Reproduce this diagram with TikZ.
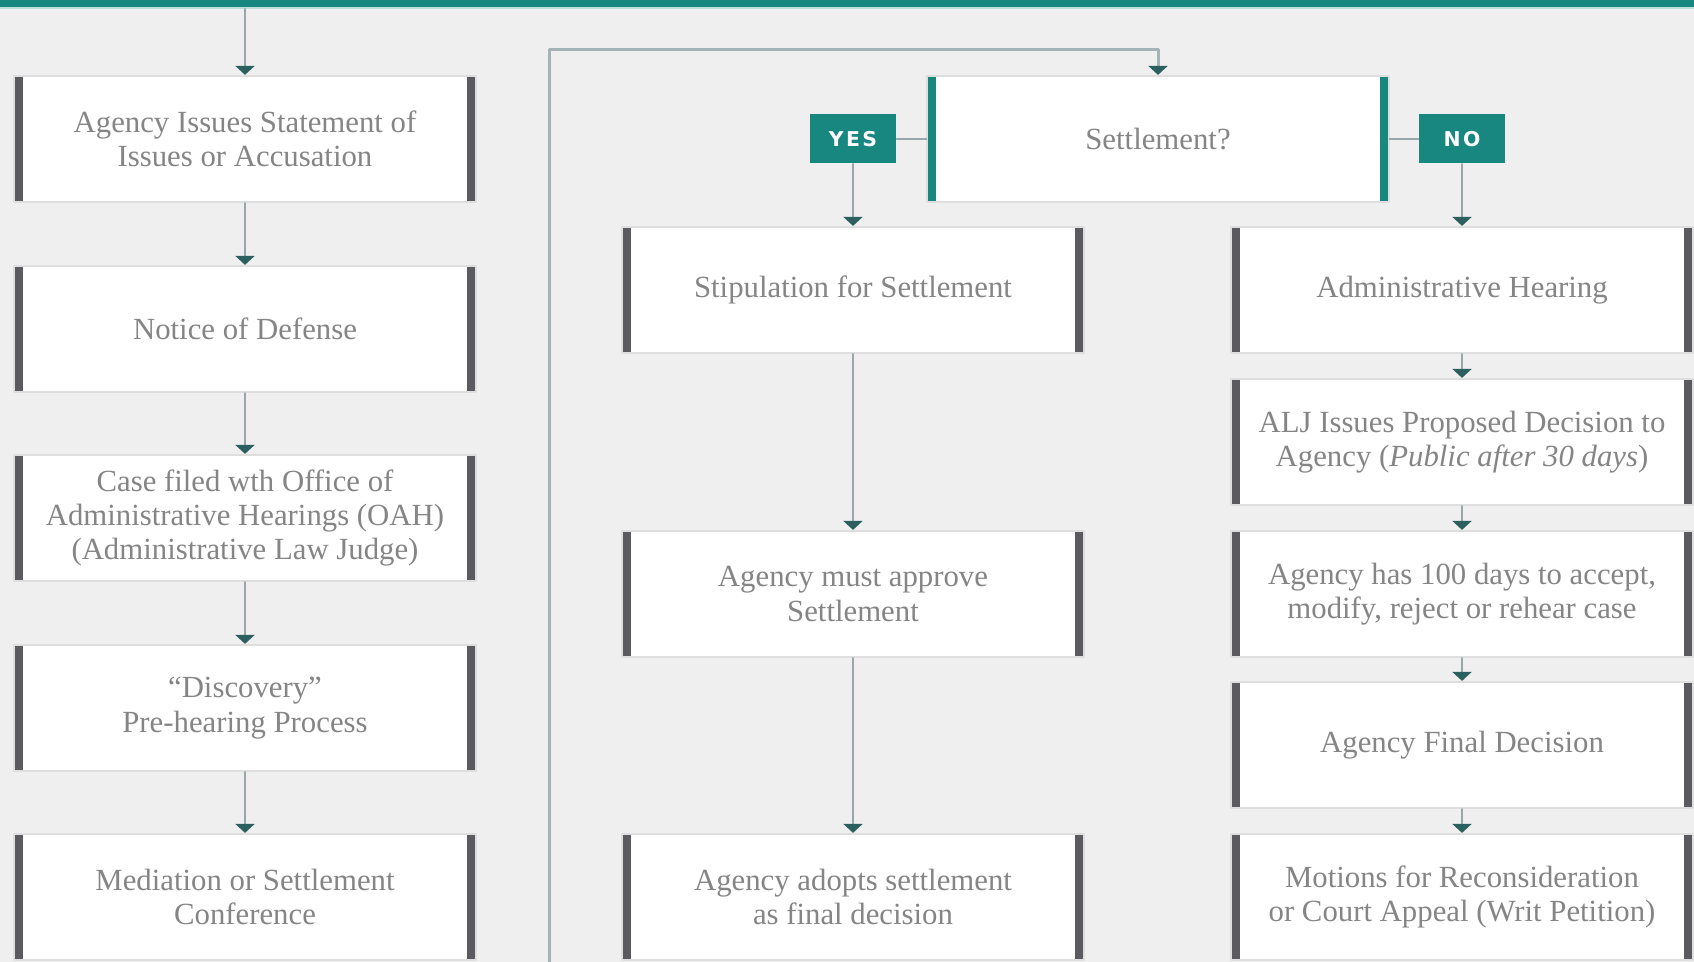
\documentclass[tikz,border=0pt]{standalone}
\usepackage{fontspec}
\setmainfont{Liberation Serif}
\newfontfamily\tagfont[LetterSpace=12]{DejaVu Sans}
\usetikzlibrary{arrows.meta}
\definecolor{bggray}{HTML}{EFEFEF}
\definecolor{tealbar}{HTML}{17877F}
\definecolor{tealpale}{HTML}{BFDFDB}
\definecolor{barcol}{HTML}{5B5A5F}
\definecolor{boxedge}{HTML}{DEDEDE}
\definecolor{txtgray}{HTML}{858585}
\definecolor{linegray}{HTML}{98A6A9}
\definecolor{loopgray}{HTML}{A3B3B6}
\definecolor{arrowteal}{HTML}{2B605F}

\begin{document}
\begin{tikzpicture}[x=0.01cm,y=-0.01cm,line cap=round,line join=round,
  sidebars/.style={path picture={
    \fill[#1] (path picture bounding box.north west) rectangle ([xshift=0.09cm]path picture bounding box.south west);
    \fill[#1] (path picture bounding box.north east) rectangle ([xshift=-0.09cm]path picture bounding box.south east);}},
  stage/.style={rectangle,fill=white,draw=boxedge,line width=0.6pt,minimum width=4.61cm,minimum height=1.26cm,
    inner sep=0pt,align=center,text=txtgray,font=\fontsize{8.75}{9.8}\selectfont,sidebars=barcol},
  tag/.style={rectangle,fill=tealbar,text=white,minimum width=0.86cm,minimum height=0.49cm,inner sep=0pt,
    font=\fontsize{5.8}{7}\selectfont\tagfont\bfseries},
  flow/.style={draw=linegray,line width=0.02cm,-{Triangle[width=0.19cm,length=0.09cm,color=arrowteal]}},
  link/.style={draw=linegray,line width=0.02cm},
  loopline/.style={draw=loopgray,line width=0.03cm,-{Triangle[width=0.19cm,length=0.09cm,color=arrowteal]}}]
\useasboundingbox (0,0) rectangle (1694,962);
\clip (0,0) rectangle (1694,962);
\fill[bggray] (0,0) rectangle (1694,962);
\fill[tealbar] (0,0) rectangle (1694,7);
\fill[tealpale] (0,7) rectangle (1694,9);

% left column
\node[stage] (l1) at (245,139) {Agency Issues Statement of\\Issues or Accusation};
\node[stage] (l2) at (245,329) {Notice of Defense};
\node[stage] (l3) at (245,518) {Case filed wth Office of\\Administrative Hearings (OAH)\\(Administrative Law Judge)};
\node[stage] (l4) at (245,708) {``Discovery''\\Pre-hearing Process};
\node[stage] (l5) at (245,897) {Mediation or Settlement\\Conference};

% decision
\node[stage,sidebars=tealbar] (settle) at (1158,139) {Settlement?};
\node[tag] (yes) at (853,139) {YES};
\node[tag] (no) at (1462,139) {NO};

% settlement branch
\node[stage] (m1) at (853,290) {Stipulation for Settlement};
\node[stage] (m2) at (853,594) {Agency must approve\\Settlement};
\node[stage] (m3) at (853,897) {Agency adopts settlement\\as final decision};

% hearing branch
\node[stage] (r1) at (1462,290) {Administrative Hearing};
\node[stage] (r2) at (1462,442) {ALJ Issues Proposed Decision to\\Agency (\textit{Public after 30 days})};
\node[stage] (r3) at (1462,594) {Agency has 100 days to accept,\\modify, reject or rehear case};
\node[stage] (r4) at (1462,745) {Agency Final Decision};
\node[stage] (r5) at (1462,897) {Motions for Reconsideration\\or Court Appeal (Writ Petition)};

\coordinate (topin) at (245,9);
\coordinate (loopfoot) at (549,970);
\coordinate (looptop) at (1158,50);

\draw[flow] (topin) -- (l1);
\draw[flow] (l1) -- (l2);
\draw[flow] (l2) -- (l3);
\draw[flow] (l3) -- (l4);
\draw[flow] (l4) -- (l5);
\draw[loopline] (loopfoot) |- (looptop) -- (settle);
\draw[link] (yes) -- (settle);
\draw[link] (settle) -- (no);
\draw[flow] (yes) -- (m1);
\draw[flow] (m1) -- (m2);
\draw[flow] (m2) -- (m3);
\draw[flow] (no) -- (r1);
\draw[flow] (r1) -- (r2);
\draw[flow] (r2) -- (r3);
\draw[flow] (r3) -- (r4);
\draw[flow] (r4) -- (r5);
\end{tikzpicture}
\end{document}
